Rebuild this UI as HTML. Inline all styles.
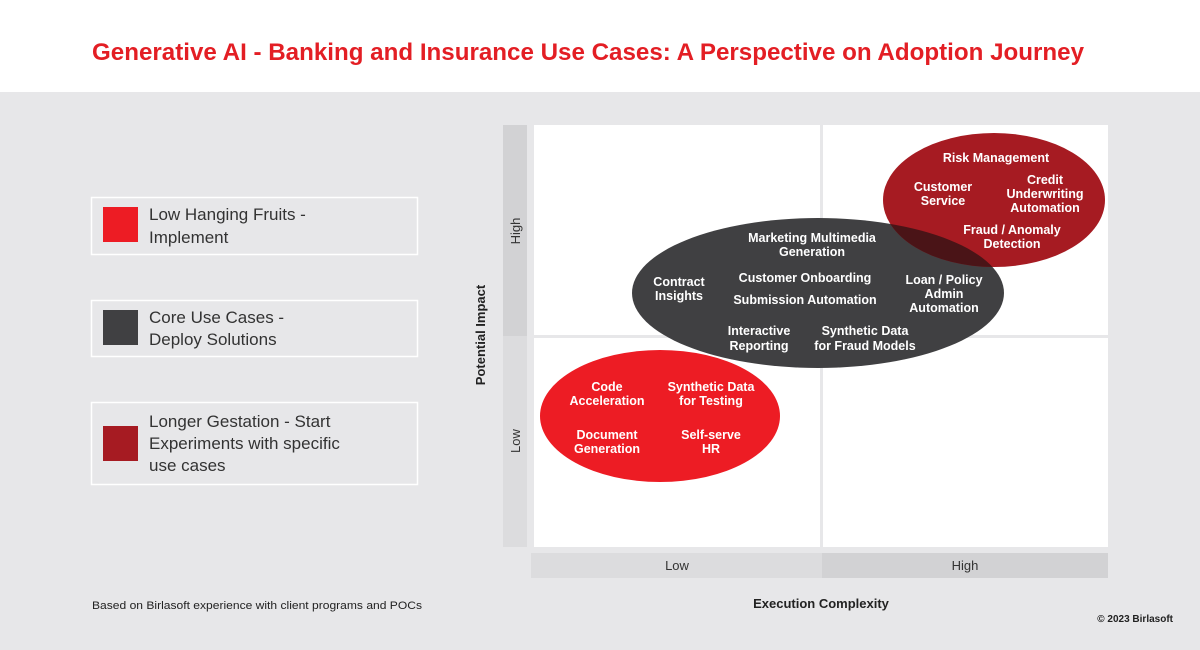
<!DOCTYPE html>
<html><head><meta charset="utf-8"><style>
html,body{margin:0;padding:0;width:1200px;height:650px;overflow:hidden;background:#e7e7e9}
svg{display:block}
text{font-family:"Liberation Sans",sans-serif}
.w{fill:#fff;font-weight:bold;font-size:12.5px;text-anchor:middle}
.lg{fill:#333;font-size:17px}
</style></head><body>
<svg width="1200" height="650" viewBox="0 0 1200 650" xmlns="http://www.w3.org/2000/svg">
<defs><clipPath id="dc"><ellipse cx="818" cy="293" rx="186" ry="75"/></clipPath></defs>
<rect x="0" y="0" width="1200" height="92" fill="#fff"/>
<rect x="0" y="92" width="1200" height="558" fill="#e7e7e9"/>
<text x="92" y="60" fill="#e31e24" font-weight="bold" font-size="24px" textLength="992" lengthAdjust="spacingAndGlyphs">Generative AI - Banking and Insurance Use Cases: A Perspective on Adoption Journey</text>

<!-- legend -->
<rect x="91.5" y="197.5" width="326" height="57" fill="none" stroke="#fff" stroke-width="1.5"/>
<rect x="103" y="207" width="35" height="35" fill="#ed1c24"/>
<text class="lg" x="149" y="220">Low Hanging Fruits -</text>
<text class="lg" x="149" y="243">Implement</text>
<rect x="91.5" y="300.5" width="326" height="56" fill="none" stroke="#fff" stroke-width="1.5"/>
<rect x="103" y="310" width="35" height="35" fill="#404042"/>
<text class="lg" x="149" y="323">Core Use Cases -</text>
<text class="lg" x="149" y="345">Deploy Solutions</text>
<rect x="91.5" y="402.5" width="326" height="82" fill="none" stroke="#fff" stroke-width="1.5"/>
<rect x="103" y="426" width="35" height="35" fill="#a61b22"/>
<text class="lg" x="149" y="427">Longer Gestation - Start</text>
<text class="lg" x="149" y="449">Experiments with specific</text>
<text class="lg" x="149" y="471">use cases</text>

<!-- axes bars -->
<rect x="503" y="125" width="24" height="211" fill="#d2d2d4"/>
<rect x="503" y="336" width="24" height="211" fill="#dcdcde"/>
<text x="520" y="231" transform="rotate(-90 520 231)" text-anchor="middle" font-size="13px" fill="#333">High</text>
<text x="520" y="441" transform="rotate(-90 520 441)" text-anchor="middle" font-size="13px" fill="#333">Low</text>
<rect x="531" y="553" width="291" height="25" fill="#dcdcde"/>
<rect x="822" y="553" width="286" height="25" fill="#d2d2d4"/>
<text x="677" y="570" text-anchor="middle" font-size="13px" fill="#333">Low</text>
<text x="965" y="570" text-anchor="middle" font-size="13px" fill="#333">High</text>

<!-- chart area -->
<rect x="534" y="125" width="574" height="422" fill="#fff"/>
<rect x="820" y="125" width="3" height="422" fill="#e7e7e9"/>
<rect x="534" y="335" width="574" height="3" fill="#e7e7e9"/>

<ellipse cx="660" cy="416" rx="120" ry="66" fill="#ed1c24"/>
<ellipse cx="818" cy="293" rx="186" ry="75" fill="#404042"/>
<ellipse cx="994" cy="200" rx="111" ry="67" fill="#a61b22"/>
<ellipse cx="994" cy="200" rx="111" ry="67" fill="#4a1417" clip-path="url(#dc)"/>

<text class="w" x="996" y="162">Risk Management</text>
<text class="w" x="943" y="191">Customer</text><text class="w" x="943" y="205">Service</text>
<text class="w" x="1045" y="184">Credit</text><text class="w" x="1045" y="198">Underwriting</text><text class="w" x="1045" y="212">Automation</text>
<text class="w" x="1012" y="234">Fraud / Anomaly</text><text class="w" x="1012" y="248">Detection</text>

<text class="w" x="812" y="242">Marketing Multimedia</text><text class="w" x="812" y="256">Generation</text>
<text class="w" x="679" y="286">Contract</text><text class="w" x="679" y="300">Insights</text>
<text class="w" x="805" y="282">Customer Onboarding</text>
<text class="w" x="805" y="304">Submission Automation</text>
<text class="w" x="944" y="284">Loan / Policy</text><text class="w" x="944" y="298">Admin</text><text class="w" x="944" y="312">Automation</text>
<text class="w" x="759" y="335">Interactive</text><text class="w" x="759" y="350">Reporting</text>
<text class="w" x="865" y="335">Synthetic Data</text><text class="w" x="865" y="350">for Fraud Models</text>

<text class="w" x="607" y="391">Code</text><text class="w" x="607" y="405">Acceleration</text>
<text class="w" x="711" y="391">Synthetic Data</text><text class="w" x="711" y="405">for Testing</text>
<text class="w" x="607" y="439">Document</text><text class="w" x="607" y="453">Generation</text>
<text class="w" x="711" y="439">Self-serve</text><text class="w" x="711" y="453">HR</text>

<text x="485" y="335" transform="rotate(-90 485 335)" text-anchor="middle" font-size="13px" font-weight="bold" fill="#222">Potential Impact</text>
<text x="821" y="608" text-anchor="middle" font-size="13px" font-weight="bold" fill="#222">Execution Complexity</text>
<text x="92" y="609" font-size="11px" fill="#222" textLength="330" lengthAdjust="spacingAndGlyphs">Based on Birlasoft experience with client programs and POCs</text>
<text x="1173" y="622" text-anchor="end" font-size="10px" font-weight="bold" fill="#222">© 2023 Birlasoft</text>
</svg>
</body></html>
